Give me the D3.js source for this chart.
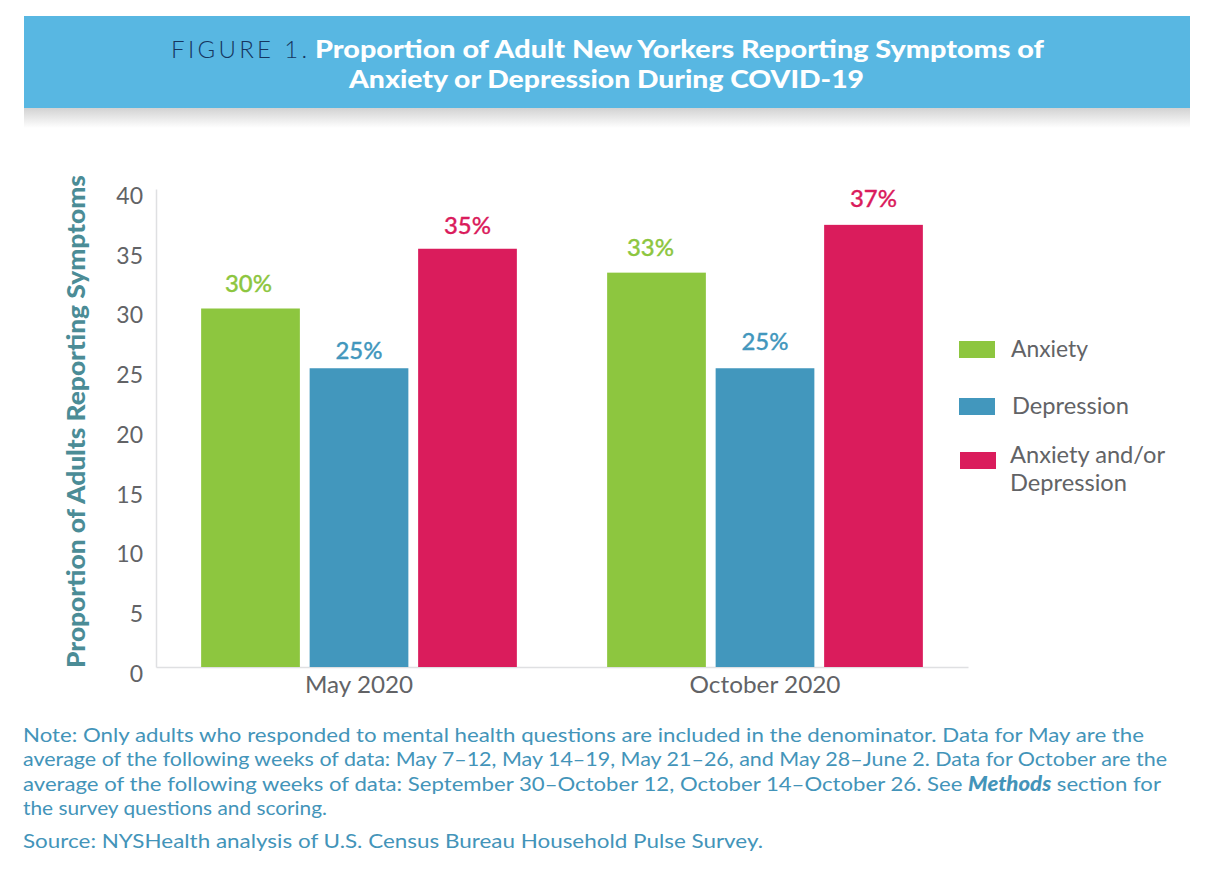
<!DOCTYPE html>
<html>
<head>
<meta charset="utf-8">
<script src="https://cdn.jsdelivr.net/npm/d3@7"></script>
<style>
  html, body { margin: 0; padding: 0; background: #fff; }
  svg { display: block; }
  text { font-family: "Lato", "Open Sans", sans-serif; }
</style>
</head>
<body>
<div id="chart"></div>
<script>
// data
var periods = ["May 2020", "October 2020"];
var seriesNames = ["Anxiety", "Depression", "Anxiety and/or Depression"];
var anxiety = [30, 33];
var depression = [25, 25];
var anxietyOrDepression = [35, 37];
var yTicks = [0, 5, 10, 15, 20, 25, 30, 35, 40];
var noteLines = [
  "Note: Only adults who responded to mental health questions are included in the denominator. Data for May are the",
  "average of the following weeks of data: May 7–12, May 14–19, May 21–26, and May 28–June 2. Data for October are the",
  "average of the following weeks of data: September 30–October 12, October 14–October 26. See ",
  "the survey questions and scoring."
];
var sourceLine = "Source: NYSHealth analysis of U.S. Census Bureau Household Pulse Survey.";

var colors = ["#8dc63f", "#4297bd", "#da1c5c"];
var labelGrey = "#626366";
var noteBlue = "#4394b9";

var svg = d3.select("#chart").append("svg")
    .attr("width", 1216)
    .attr("height", 888);

// the original face is wider than Lato, so stretch text to the measured width
var fit = function (sel, w) {
  return sel.attr("textLength", w).attr("lengthAdjust", "spacingAndGlyphs");
};

// 1) Title banner with the soft shadow below it
var grad = svg.append("defs").append("linearGradient")
    .attr("id", "bannerShadow")
    .attr("x1", 0).attr("x2", 0).attr("y1", 0).attr("y2", 1);
grad.append("stop").attr("offset", "0%").attr("stop-color", "#d2d2d2");
grad.append("stop").attr("offset", "100%").attr("stop-color", "#ffffff");

svg.append("rect").attr("x", 24).attr("y", 108).attr("width", 1166).attr("height", 20)
    .attr("fill", "url(#bannerShadow)");
svg.append("rect").attr("x", 24).attr("y", 16).attr("width", 1166).attr("height", 92)
    .attr("fill", "#58b7e2");

svg.append("text")
    .attr("x", 171).attr("y", 58)
    .attr("fill", "#16365f")
    .attr("textLength", 136)
    .attr("lengthAdjust", "spacing")
    .style("font-size", "24px")
    .style("font-weight", 300)
    .text("FIGURE 1.");
fit(svg.append("text")
    .attr("x", 315).attr("y", 58)
    .attr("fill", "#fff")
    .style("font-size", "25px")
    .style("font-weight", 900)
    .text("Proportion of Adult New Yorkers Reporting Symptoms of"), 729);
fit(svg.append("text")
    .attr("x", 349).attr("y", 88)
    .attr("fill", "#fff")
    .style("font-size", "25px")
    .style("font-weight", 900)
    .text("Anxiety or Depression During COVID-19"), 515);

// 2) Scales
var x0 = d3.scaleBand().domain(periods).range([156, 968]);
var x1 = d3.scaleBand().domain(seriesNames).range([0, x0.bandwidth()]).paddingInner(0.09).paddingOuter(0.416);
var y = d3.scaleLinear().domain([0, 40]).range([667, 189]);

// 3) Axes
var xAxis = svg.append("g")
    .attr("transform", "translate(0,667)")
    .call(d3.axisBottom(x0).tickSize(0).tickPadding(10));
xAxis.select(".domain").attr("stroke", "#dfe0e2").attr("stroke-width", 1.5);
xAxis.selectAll("text")
    .attr("fill", labelGrey)
    .style("font-size", "23px")
    .each(function (d) { fit(d3.select(this), d === periods[0] ? 108 : 151); });

var yAxis = svg.append("g")
    .attr("transform", "translate(156,0)")
    .call(d3.axisLeft(y).tickValues(yTicks).tickSize(0).tickPadding(13));
yAxis.select(".domain").attr("stroke", "#dfe0e2").attr("stroke-width", 1.5);
yAxis.selectAll("text")
    .attr("fill", labelGrey)
    .attr("dy", "0.62em")
    .style("font-size", "23px");

fit(svg.append("text")
    .attr("transform", "translate(85,668) rotate(-90)")
    .attr("fill", "#4b8c96")
    .style("font-size", "24px")
    .style("font-weight", 900)
    .text("Proportion of Adults Reporting Symptoms"), 493);

// 4) Bars and their labels
var allSeries = [anxiety, depression, anxietyOrDepression];
// the labels do not sit at one height, and the green ones sit left of centre
var labelLift = [[17, 17], [9, 18], [15, 18]];
var labelShift = [[-2, -6], [0, 0], [0, 0]];
allSeries.forEach(function (values, s) {
  var name = seriesNames[s];
  svg.selectAll(".bar" + s)
      .data(values)
    .enter().append("rect")
      .attr("class", "bar" + s)
      .attr("x", function (d, i) { return x0(periods[i]) + x1(name); })
      .attr("y", function (d) { return y(d); })
      .attr("width", x1.bandwidth())
      .attr("height", function (d) { return y(0) - y(d); })
      .attr("fill", colors[s]);
  svg.selectAll(".val" + s)
      .data(values)
    .enter().append("text")
      .attr("class", "val" + s)
      .attr("x", function (d, i) { return x0(periods[i]) + x1(name) + x1.bandwidth() / 2 + labelShift[s][i]; })
      .attr("y", function (d, i) { return y(d) - labelLift[s][i]; })
      .attr("text-anchor", "middle")
      .attr("fill", colors[s])
      .style("font-size", "23px")
      .style("font-weight", 500)
      .style("stroke", colors[s])
      .style("stroke-width", 0.3)
      .text(function (d) { return d + "%"; })
      .call(fit, 47);
});

// 5) Legend
var legendRows = [
  { key: 0, boxY: 341, lines: ["Anxiety"], widths: [77], textX: 1011, textY: 357 },
  { key: 1, boxY: 398, lines: ["Depression"], widths: [117], textX: 1012, textY: 414 },
  { key: 2, boxY: 452, lines: ["Anxiety and/or", "Depression"], widths: [155, 117], textX: 1010, textY: 463 }
];
legendRows.forEach(function (row) {
  svg.append("rect")
      .attr("x", row.key === 2 ? 960 : 959).attr("y", row.boxY)
      .attr("width", 36).attr("height", 17)
      .attr("fill", colors[row.key]);
  row.lines.forEach(function (line, i) {
    fit(svg.append("text")
        .attr("x", row.textX).attr("y", row.textY + i * 28)
        .attr("fill", labelGrey)
        .style("font-size", "23px")
        .text(line), row.widths[i]);
  });
});

// 6) Note and source
var noteY = [742, 766, 791, 815];
var noteWidths = [1121, 1144, 1138, 304];
noteLines.forEach(function (line, i) {
  var t = svg.append("text")
      .attr("x", 23).attr("y", noteY[i])
      .attr("fill", noteBlue)
      .style("font-size", "20px")
      .text(line);
  if (i === 2) {
    t.append("tspan").style("font-weight", 900).style("font-style", "italic").text("Methods");
    t.append("tspan").text(" section for");
  }
  fit(t, noteWidths[i]);
});
fit(svg.append("text")
    .attr("x", 23).attr("y", 848)
    .attr("fill", noteBlue)
    .style("font-size", "20px")
    .text(sourceLine), 740);
</script>
</body>
</html>
